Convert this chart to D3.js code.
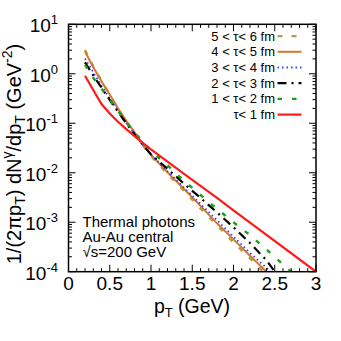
<!DOCTYPE html>
<html>
<head>
<meta charset="utf-8">
<script src="https://cdn.jsdelivr.net/npm/d3@7"></script>
<style>
  body { margin: 0; background: #fff; }
  text { font-family: 'Liberation Sans', Arial, sans-serif; fill: #000; }
</style>
</head>
<body>
<div id="chart"></div>
<script>
// pT grid (GeV) shared by all curves, then each curve has its own tail
const pt = [0.2, 0.3, 0.4, 0.5, 0.6, 0.7, 0.8, 0.9, 1.0, 1.2, 1.4, 1.6, 1.8, 2.0, 2.2];

const tau56 = [3.02, 1.41, 0.72, 0.37, 0.19, 0.105, 0.062, 0.036, 0.0219, 0.0095, 0.0043, 0.0019, 0.00087, 0.00039, 0.000186];
const tau56Tail = [[2.36, 0.0001]];
const tau45 = [2.82, 1.35, 0.71, 0.38, 0.20, 0.112, 0.066, 0.038, 0.0229, 0.0102, 0.0047, 0.00214, 0.00095, 0.00045, 0.00021];
const tau45Tail = [[2.40, 0.0001]];
const tau34 = [2.04, 1.07, 0.575, 0.316, 0.178, 0.102, 0.060, 0.037, 0.0234, 0.0107, 0.005, 0.00234, 0.0011, 0.00051, 0.00024];
const tau34Tail = [[2.45, 0.0001]];
const tau23 = [1.70, 0.93, 0.525, 0.295, 0.17, 0.1, 0.060, 0.037, 0.0234, 0.012, 0.006, 0.0031, 0.00158, 0.00079, 0.00038];
const tau23Tail = [[2.4, 0.00017], [2.5, 0.0001]];
const tau12 = [1.51, 0.83, 0.50, 0.295, 0.178, 0.105, 0.066, 0.042, 0.028, 0.0141, 0.0069, 0.00355, 0.00186, 0.001, 0.00055];
const tau12Tail = [[2.4, 0.00028], [2.6, 0.00014], [2.7, 0.0001]];
const tau01 = [0.91, 0.47, 0.245, 0.158, 0.107, 0.076, 0.055, 0.040, 0.0295, 0.0167, 0.0095, 0.0054, 0.0031, 0.00174, 0.00098];
const tau01Tail = [[3.0, 0.0001]];

const labels = ['5 < τ< 6 fm', '4 < τ< 5 fm', '3 < τ< 4 fm', '2 < τ< 3 fm', '1 < τ< 2 fm', 'τ< 1 fm'];
const xTicks = [0, 0.5, 1, 1.5, 2, 2.5, 3];
const yTicks = [1, 0, -1, -2, -3, -4];
const notes = ['Thermal photons', 'Au-Au central', '√s=200 GeV'];

function build(vals, tail) {
  return pt.map(function (p, i) { return [p, vals[i]]; }).concat(tail);
}

const curves = [
  { name: labels[0], pts: build(tau56, tau56Tail), color: '#aca048', dash: '5,9', w: 2.4 },
  { name: labels[1], pts: build(tau45, tau45Tail), color: '#d8762c', dash: null, w: 2 },
  { name: labels[2], pts: build(tau34, tau34Tail), color: '#3c3cff', dash: '1.5,3', w: 1.8 },
  { name: labels[3], pts: build(tau23, tau23Tail), color: '#000000', dash: '9,5,2,5', w: 2.2 },
  { name: labels[4], pts: build(tau12, tau12Tail), color: '#16a016', dash: '4.5,10', w: 2.4 },
  { name: labels[5], pts: build(tau01, tau01Tail), color: '#ff1a1a', dash: null, w: 2.2 }
];

const margin = { top: 24.3, right: 25, bottom: 69.3, left: 68.5 };
const W = 341, H = 341;
const width = W - margin.left - margin.right,
  height = H - margin.top - margin.bottom;

const svg = d3.select('#chart')
  .append('svg')
  .attr('width', W)
  .attr('height', H);

const g = svg.append('g')
  .attr('transform', 'translate(' + margin.left + ',' + margin.top + ')');

const x = d3.scaleLinear().domain([0, 3]).range([0, width]);
const y = d3.scaleLog().domain([1e-4, 10]).range([height, 0]);

//clip for curves
svg.append('defs').append('clipPath').attr('id', 'clip')
  .append('rect').attr('width', width).attr('height', height);

const line = d3.line()
  .x(function (d) { return x(d[0]); })
  .y(function (d) { return y(d[1]); });

g.append('g').attr('clip-path', 'url(#clip)')
  .selectAll('.curve')
  .data(curves)
  .enter().append('path')
  .attr('class', 'curve')
  .attr('d', function (d) { return line(d.pts); })
  .attr('fill', 'none')
  .attr('stroke', function (d) { return d.color; })
  .attr('stroke-width', function (d) { return d.w; })
  .attr('stroke-dasharray', function (d) { return d.dash; });

//ticks: inward on all four sides
const xMinor = d3.range(0, 3.001, 0.1);
const yMinor = [];
for (let e = -4; e < 1; e++) {
  for (let k = 2; k < 10; k++) yMinor.push(k * Math.pow(10, e));
}

const tickG = g.append('g').attr('stroke', '#000').attr('stroke-width', 1);
xMinor.forEach(function (v) {
  const major = Math.abs(v * 2 - Math.round(v * 2)) < 1e-6;
  const len = major ? 7 : 3.5;
  tickG.append('line').attr('x1', x(v)).attr('x2', x(v)).attr('y1', height).attr('y2', height - len);
  tickG.append('line').attr('x1', x(v)).attr('x2', x(v)).attr('y1', 0).attr('y2', len);
});
yTicks.forEach(function (e) {
  const yy = y(Math.pow(10, e));
  tickG.append('line').attr('x1', 0).attr('x2', 7).attr('y1', yy).attr('y2', yy);
  tickG.append('line').attr('x1', width).attr('x2', width - 7).attr('y1', yy).attr('y2', yy);
});
yMinor.forEach(function (v) {
  const yy = y(v);
  tickG.append('line').attr('x1', 0).attr('x2', 3.5).attr('y1', yy).attr('y2', yy);
  tickG.append('line').attr('x1', width).attr('x2', width - 3.5).attr('y1', yy).attr('y2', yy);
});

//frame
g.append('rect')
  .attr('width', width).attr('height', height)
  .attr('fill', 'none').attr('stroke', '#000').attr('stroke-width', 1.5);

//x tick labels
g.selectAll('.xlab')
  .data(xTicks)
  .enter().append('text')
  .attr('class', 'xlab')
  .attr('x', function (d) { return x(d); })
  .attr('y', height + 18.5)
  .attr('text-anchor', 'middle')
  .style('font-size', '19px')
  .text(function (d) { return d; });

//y tick labels as 10^n
const ylab = g.selectAll('.ylab')
  .data(yTicks)
  .enter().append('text')
  .attr('class', 'ylab')
  .attr('x', -10.5)
  .attr('y', function (d) { return y(Math.pow(10, d)) + 8; })
  .attr('text-anchor', 'end')
  .style('font-size', '19px');
ylab.append('tspan').text('10');
ylab.append('tspan')
  .attr('dy', -8)
  .style('font-size', '13px')
  .text(function (d) { return d; });

//x title
const xt = svg.append('text')
  .attr('x', 192)
  .attr('y', 312.5)
  .attr('text-anchor', 'middle')
  .style('font-size', '19.5px');
xt.append('tspan').text('p');
xt.append('tspan').attr('dy', 4.5).style('font-size', '13px').text('T');
xt.append('tspan').attr('dy', -4.5).text(' (GeV)');

//y title
const yt = svg.append('text')
  .attr('transform', 'translate(20.5,154) rotate(-90)')
  .attr('text-anchor', 'middle')
  .style('font-size', '20px');
yt.append('tspan').text('1/(2πp');
yt.append('tspan').attr('dy', 4.5).style('font-size', '14px').text('T');
yt.append('tspan').attr('dy', -4.5).text(') dN');
yt.append('tspan').attr('dy', -8.5).style('font-size', '14px').text('γ');
yt.append('tspan').attr('dy', 8.5).text('/dp');
yt.append('tspan').attr('dy', 4.5).style('font-size', '14px').text('T');
yt.append('tspan').attr('dy', -4.5).text(' (GeV');
yt.append('tspan').attr('dy', -8.5).style('font-size', '14px').text('-2');
yt.append('tspan').attr('dy', 8.5).text(')');

//legend
const legend = g.selectAll('.legend')
  .data(curves)
  .enter().append('g')
  .attr('class', 'legend')
  .attr('transform', function (d, i) { return 'translate(0,' + (11.8 + i * 15.7) + ')'; });

legend.append('text')
  .attr('x', 206.5)
  .attr('y', 4.5)
  .attr('text-anchor', 'end')
  .style('font-size', '13px')
  .text(function (d) { return d.name; });

legend.append('line')
  .attr('x1', 209).attr('x2', 233)
  .attr('y1', 0).attr('y2', 0)
  .attr('stroke', function (d) { return d.color; })
  .attr('stroke-width', function (d) { return d.w; })
  .attr('stroke-dasharray', function (d) { return d.dash; });

//annotation
g.selectAll('.note')
  .data(notes)
  .enter().append('text')
  .attr('class', 'note')
  .attr('x', 14)
  .attr('y', function (d, i) { return 202.5 + i * 15; })
  .style('font-size', '15px')
  .text(function (d) { return d; });
</script>
</body>
</html>
